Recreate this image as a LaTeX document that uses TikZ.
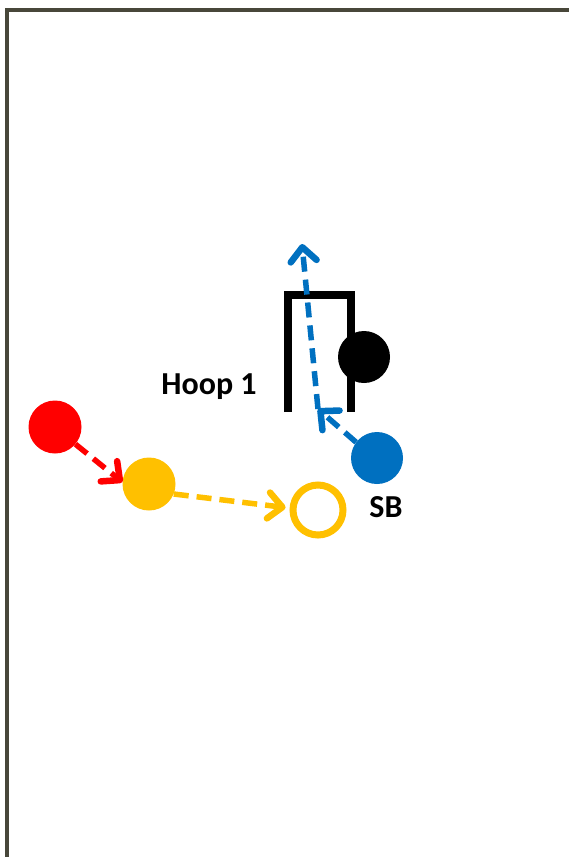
\documentclass[tikz,border=0pt]{standalone}
\usepackage{fontspec}
\setmainfont{Carlito}
\usetikzlibrary{arrows.meta}
\definecolor{frameol}{HTML}{48473A}
\definecolor{pred}{HTML}{FF0000}
\definecolor{pyel}{HTML}{FFC000}
\definecolor{pblue}{HTML}{0070C0}
\tikzset{
  player/.style={circle, inner sep=0pt, minimum size=#1},
  move/.style={line width=5.5pt, dash pattern=on 15pt off 8pt,
    -{Straight Barb[length=14pt,width=26pt,line width=6.5pt,round]}},
  lbl/.style={font=\bfseries\fontsize{32}{36}\selectfont, inner sep=0pt}
}
\begin{document}
\begin{tikzpicture}[x=1pt,y=-1pt]
  \useasboundingbox (0,0) rectangle (569,857);
  \fill[white] (0,0) rectangle (569,857);
  % court frame (only top and left edges fall inside)
  \draw[frameol, line width=3.5pt] (7,857) -- (7,10) -- (569,10);

  % hoop
  \draw[black, line width=8.5pt] (288,412) -- (288,295) -- (351,295) -- (351,412);
  \node[lbl] (hooplbl) at (209,387) {Hoop 1};

  % players
  \node[player=52pt, fill=black] (def) at (364,357) {};
  \node[player=53pt, fill=pred] (red) at (55,427) {};
  \node[player=53pt, fill=pyel] (yel) at (149,484) {};
  \node[player=50pt, draw=pyel, line width=7pt] (yelto) at (318,510) {};
  \node[player=52pt, fill=pblue] (sb) at (377,458) {};
  \node[lbl] (sblbl) at (386,507) {SB};

  % path points of the screen cut
  \coordinate (bend) at (318,409);
  \coordinate (cut) at (302,244);

  % movements
  \draw[move, pred] (red.-40) -- (yel.176);
  \draw[move, pyel, shorten >=4pt] (yel.-22) -- (yelto.176);
  \draw[move, pblue] (sb.143) -- (bend);
  \draw[move, pblue] (bend) -- (cut);
\end{tikzpicture}
\end{document}
